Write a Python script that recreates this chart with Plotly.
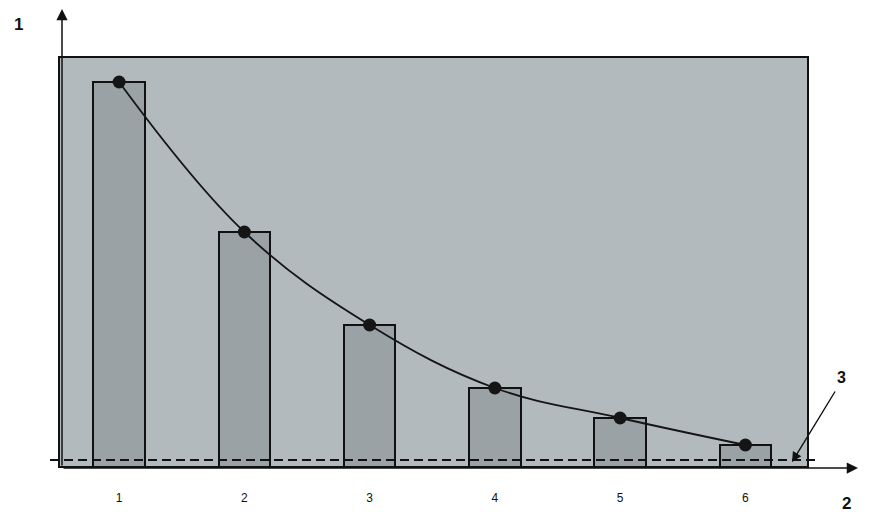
import plotly.graph_objects as go

categories = [1, 2, 3, 4, 5, 6]
tick_labels = ["1", "2", "3", "4", "5", "6"]
bar_values = [38.5, 23.5, 14.2, 7.9, 4.9, 2.2]
curve_values = [38.5, 23.5, 14.2, 7.9, 4.9, 2.2]
threshold = 0.7

OFF = 8  # page body margin
W, H = 871 - OFF, 523 - OFF
ml = 59 - OFF
mr = W - (808 - OFF)
mt = 57 - OFF
mb = H - (467 - OFF)
pw, ph = W - ml - mr, H - mt - mb


def px(sx):
    return (sx - OFF - ml) / pw


def py(sy):
    return (H - mb - (sy - OFF)) / ph


fig = go.Figure()
fig.add_trace(go.Bar(
    x=categories, y=bar_values, width=0.41,
    marker=dict(color="#9aa2a6", line=dict(color="#111111", width=2)),
    hoverinfo="skip", showlegend=False,
))
fig.add_trace(go.Scatter(
    x=categories, y=curve_values, mode="lines+markers",
    line=dict(color="#151515", width=1.8, shape="spline", smoothing=1.1),
    marker=dict(color="#151515", size=13),
    showlegend=False,
))

# dashed reference line (3)
fig.add_shape(type="line", xref="paper", yref="y",
              x0=px(50), x1=px(815), y0=threshold, y1=threshold,
              line=dict(color="#111111", width=2, dash="9px,5px"))
# frame
fig.add_shape(type="rect", xref="paper", yref="paper", x0=0, x1=1, y0=0, y1=1,
              line=dict(color="#111111", width=2), layer="above")

label_font = dict(size=17, color="#111111", family="Liberation Sans")
annotations = [
    # y axis arrow
    dict(xref="paper", yref="paper", x=px(62), y=py(8),
         ax=0, ay=(467 - 8), showarrow=True, arrowhead=2, arrowsize=1.5,
         arrowwidth=1.5, arrowcolor="#111111", text=""),
    # x axis arrow
    dict(xref="paper", yref="paper", x=px(858), y=py(468),
         ax=-(858 - 62), ay=0, showarrow=True, arrowhead=2, arrowsize=1.5,
         arrowwidth=1.5, arrowcolor="#111111", text=""),
    # pointer to dashed line
    dict(xref="paper", yref="paper", x=px(792), y=py(462),
         ax=(836 - 792), ay=(390 - 462), showarrow=True, arrowhead=2, arrowsize=1.4,
         arrowwidth=1.4, arrowcolor="#111111", text=""),
    dict(xref="paper", yref="paper", x=px(18), y=py(25), xanchor="center", yanchor="middle",
         text="<b>1</b>", showarrow=False, font=label_font),
    dict(xref="paper", yref="paper", x=px(846), y=py(503), xanchor="center", yanchor="middle",
         text="<b>2</b>", showarrow=False, font=label_font),
    dict(xref="paper", yref="paper", x=px(841), y=py(377), xanchor="center", yanchor="middle",
         text="<b>3</b>", showarrow=False, font=dict(size=16, color="#111111", family="Liberation Sans")),
]

fig.update_layout(
    width=W, height=H,
    margin=dict(l=ml, r=mr, t=mt, b=mb),
    paper_bgcolor="white", plot_bgcolor="#b3babe",
    bargap=0,
    annotations=annotations,
    xaxis=dict(range=[0.52, 6.5], tickvals=categories, ticktext=tick_labels,
               showgrid=False, zeroline=False, showline=False,
               ticks="", tickfont=dict(size=12, color="#111111", family="Liberation Sans"),
               ticklabelstandoff=22),
    yaxis=dict(range=[0, 41], showgrid=False, zeroline=False, showline=False,
               showticklabels=False, ticks=""),
    font=dict(family="Liberation Sans"),
)

fig.write_html("out.html")
